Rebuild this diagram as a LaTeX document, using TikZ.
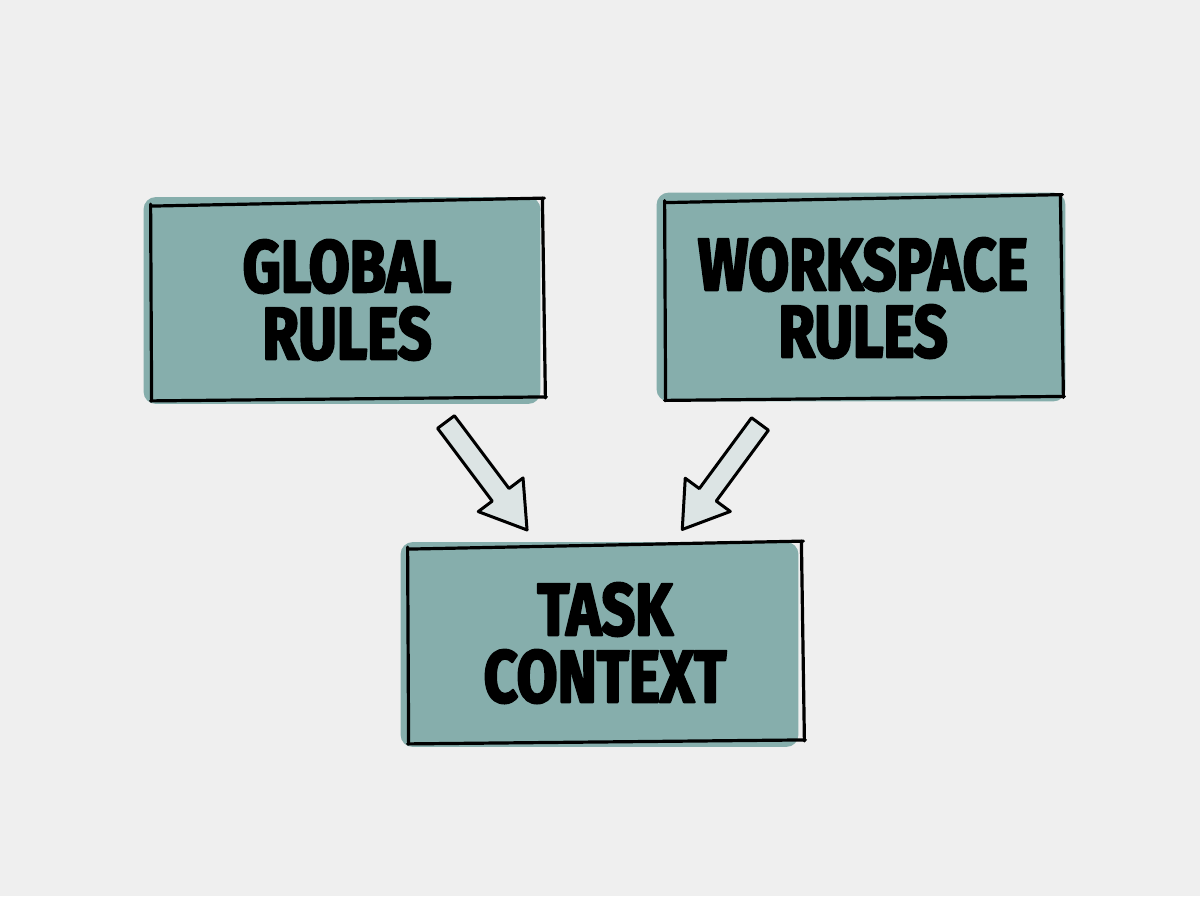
\documentclass[tikz,border=0pt]{standalone}
\usepackage{fontspec}
\newfontfamily\lblfont{Fira Sans}[FakeStretch=0.8]
\usetikzlibrary{backgrounds}
\definecolor{bgcol}{HTML}{EFEFEF}
\definecolor{tealfill}{HTML}{86AEAC}
\definecolor{arrowfill}{HTML}{DCE4E4}
\newcommand\thicktext{\special{pdf:literal direct 0 0 0 RG 2 Tr 1.1 w 1 J 1 j}}
\begin{document}
\begin{tikzpicture}[x=0.5pt,y=-0.5pt,
  sketch/.style={line width=1.6pt, line cap=round, draw=black},
  boxfill/.style={fill=tealfill, rounded corners=6pt},
  lbl/.style={font=\lblfont\bfseries\fontsize{37}{33.5}\selectfont, align=center, text=black, inner sep=0pt},
  arrowshape/.style={fill=arrowfill, draw=black, line width=1.5pt, line join=round}]
\useasboundingbox (0,0) rectangle (1200,896);

% labelled boxes
\node[lbl, minimum width=196pt, minimum height=98.5pt] (g) at (347,300) {\thicktext GLOBAL\\\thicktext RULES};
\node[lbl, minimum width=198pt, minimum height=100pt] (w) at (863,298) {\thicktext WORKSPACE\\\thicktext RULES};
\node[lbl, minimum width=197pt, minimum height=98.5pt] (t) at (605,643) {\thicktext TASK\\\thicktext CONTEXT};

\begin{scope}[on background layer]
  \fill[bgcol] (0,0) rectangle (1200,896);
  \fill[boxfill] ([shift={(-7,-4)}]g.north west) rectangle ([shift={(-3,5)}]g.south east);
  \fill[boxfill] ([shift={(-8,-5)}]w.north west) rectangle ([shift={(4,3)}]w.south east);
  \fill[boxfill] ([shift={(-7,-2)}]t.north west) rectangle ([shift={(-4,5)}]t.south east);
\end{scope}

% sketchy outlines
\foreach \n in {g,w,t}{
  \draw[sketch] ([shift={(0,5)}]\n.north west) -- ([shift={(1,-3)}]\n.north east);
  \draw[sketch] ([shift={(0,3)}]\n.north west) -- ([shift={(1,1)}]\n.south west);
  \draw[sketch] ([shift={(0,2)}]\n.south west) -- ([shift={(3,-2)}]\n.south east);
  \draw[sketch] ([shift={(-1,-3)}]\n.north east) -- ([shift={(2,-1)}]\n.south east);
}

% block arrows
\coordinate (a1s) at (446,422);
\coordinate (a2s) at (760,424);
\begin{scope}[shift={(a1s)}, rotate=-53.1]
  \draw[arrowshape] (0,-10.5) -- (91,-10.5) -- (91,-28) -- (135,0) coordinate (a1e)
    -- (91,28) -- (91,10.5) -- (0,10.5) -- cycle;
\end{scope}
\begin{scope}[shift={(a2s)}, rotate=-126.4]
  \draw[arrowshape] (0,-10.5) -- (88,-10.5) -- (88,-28) -- (131,0) coordinate (a2e)
    -- (88,28) -- (88,10.5) -- (0,10.5) -- cycle;
\end{scope}
\end{tikzpicture}
\end{document}
